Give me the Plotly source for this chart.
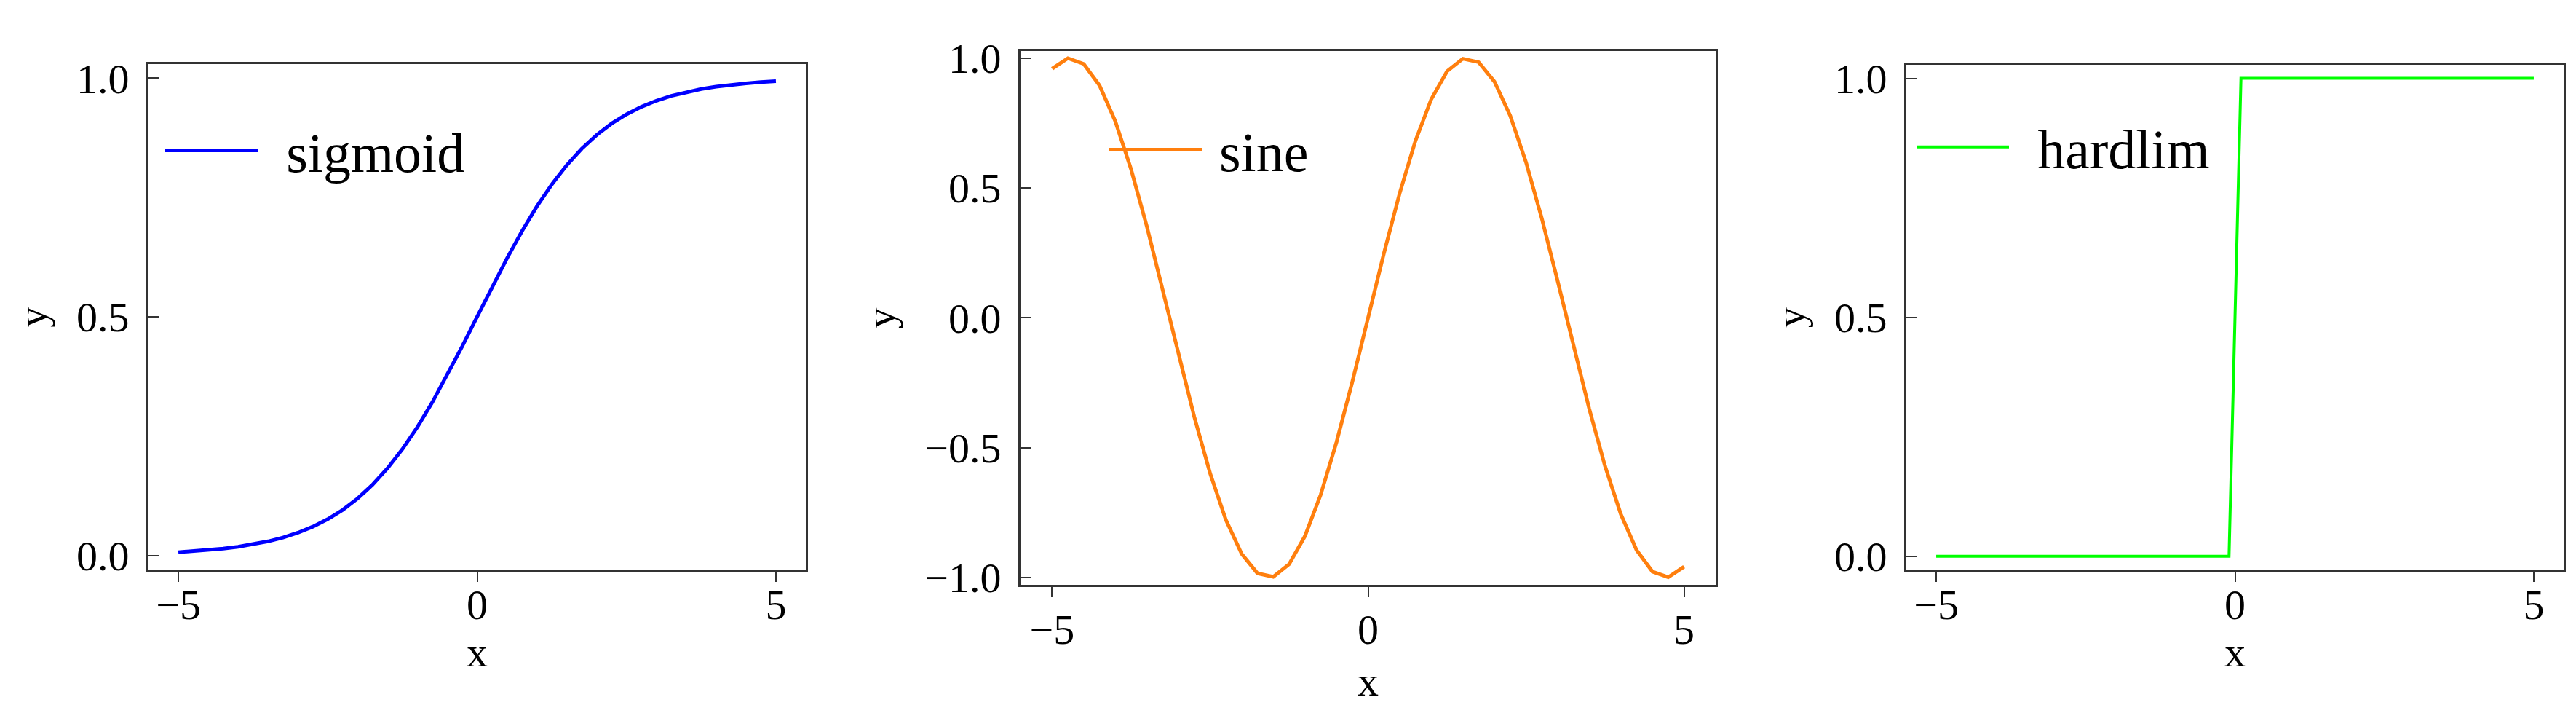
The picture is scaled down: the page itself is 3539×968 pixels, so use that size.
import plotly.graph_objects as go

# values
x_smooth = [-5, -4.75, -4.5, -4.25, -4, -3.75, -3.5, -3.25, -3, -2.75, -2.5, -2.25, -2, -1.75,
            -1.5, -1.25, -1, -0.75, -0.5, -0.25, 0, 0.25, 0.5, 0.75, 1, 1.25, 1.5, 1.75, 2,
            2.25, 2.5, 2.75, 3, 3.25, 3.5, 3.75, 4, 4.25, 4.5, 4.75, 5]
sigmoid_y = [0.0067, 0.0086, 0.0110, 0.0141, 0.0180, 0.0230, 0.0293, 0.0373, 0.0474, 0.0601,
             0.0759, 0.0953, 0.1192, 0.1480, 0.1824, 0.2227, 0.2689, 0.3208, 0.3775, 0.4378,
             0.5, 0.5622, 0.6225, 0.6792, 0.7311, 0.7773, 0.8176, 0.8520, 0.8808, 0.9047,
             0.9241, 0.9399, 0.9526, 0.9627, 0.9707, 0.9770, 0.9820, 0.9859, 0.9890, 0.9914, 0.9933]
sine_y = [0.9589, 0.9993, 0.9775, 0.8950, 0.7568, 0.5716, 0.3508, 0.1082, -0.1411, -0.3817,
          -0.5985, -0.7781, -0.9093, -0.9840, -0.9975, -0.9490, -0.8415, -0.6816, -0.4794, -0.2474,
          0.0, 0.2474, 0.4794, 0.6816, 0.8415, 0.9490, 0.9975, 0.9840, 0.9093, 0.7781,
          0.5985, 0.3817, 0.1411, -0.1082, -0.3508, -0.5716, -0.7568, -0.8950, -0.9775, -0.9993, -0.9589]
x_hard = [-5, -0.1, 0.1, 5]
hardlim_y = [0, 0, 1, 1]

names = ["sigmoid", "sine", "hardlim"]
colors = ["#0000ff", "#ff7f0e", "#00ff00"]

W, H = 3539, 968
FONT = "Liberation Serif"
# space between legend line and label
gaps = ["\u00a0\u2009", "\u00a0", "\u00a0\u2009"]

fig = go.Figure()
fig.add_trace(go.Scatter(x=x_smooth, y=sigmoid_y, mode="lines", name=gaps[0] + names[0],
                         line=dict(color=colors[0], width=5), xaxis="x", yaxis="y", legend="legend"))
fig.add_trace(go.Scatter(x=x_smooth, y=sine_y, mode="lines", name=gaps[1] + names[1],
                         line=dict(color=colors[1], width=5), xaxis="x2", yaxis="y2", legend="legend2"))
fig.add_trace(go.Scatter(x=x_hard, y=hardlim_y, mode="lines", name=gaps[2] + names[2],
                         line=dict(color=colors[2], width=4), xaxis="x3", yaxis="y3", legend="legend3"))

# panel boxes in pixels: left, right, top, bottom
boxes = [(196, 1099, 61, 788), (1394, 2349, 42, 810), (2611, 3514, 62, 788)]
yranges = [[-0.030, 1.029], [-1.029, 1.027], [-0.028, 1.028]]
yticks = [[0, 0.5, 1], [-1, -0.5, 0, 0.5, 1], [0, 0.5, 1]]
xlabel_standoff = [-19, -6, -19]
xtitle_standoff = [8, 19, 8]

axcommon = dict(showline=True, linecolor="#333", linewidth=3, mirror=True, showgrid=False,
                zeroline=False, tickcolor="#333", tickwidth=2, ticklen=14,
                tickfont=dict(family=FONT, size=58, color="black"))

layout = dict(width=W, height=H, margin=dict(l=0, r=0, t=0, b=0), showlegend=True,
              plot_bgcolor="white", paper_bgcolor="white",
              font=dict(family=FONT, color="black"))
legend_pos = [(214, 185), (1511, 184), (2620, 180)]
for i, (l, r, t, b) in enumerate(boxes):
    s = "" if i == 0 else str(i + 1)
    layout["xaxis" + s] = dict(axcommon, domain=[l / W, r / W], range=[-5.5, 5.5], anchor="y" + s,
                               tickvals=[-5, 0, 5], ticks="outside", ticklabelstandoff=xlabel_standoff[i],
                               title=dict(text="x", font=dict(family=FONT, size=58),
                                          standoff=xtitle_standoff[i]))
    layout["yaxis" + s] = dict(axcommon, domain=[1 - b / H, 1 - t / H], range=yranges[i], anchor="x" + s,
                               tickvals=yticks[i], tickformat=".1f", ticks="inside",
                               ticklabelstandoff=12,
                               title=dict(text="y", font=dict(family=FONT, size=58), standoff=22))
    lx, ly = legend_pos[i]
    layout["legend" + s] = dict(x=lx / W, y=1 - ly / H, xanchor="left", yanchor="middle",
                                xref="paper", yref="paper", bgcolor="rgba(0,0,0,0)", visible=True,
                                itemwidth=127, font=dict(family=FONT, size=76, color="black"))

fig.update_layout(**layout)
fig.write_html("out.html")
